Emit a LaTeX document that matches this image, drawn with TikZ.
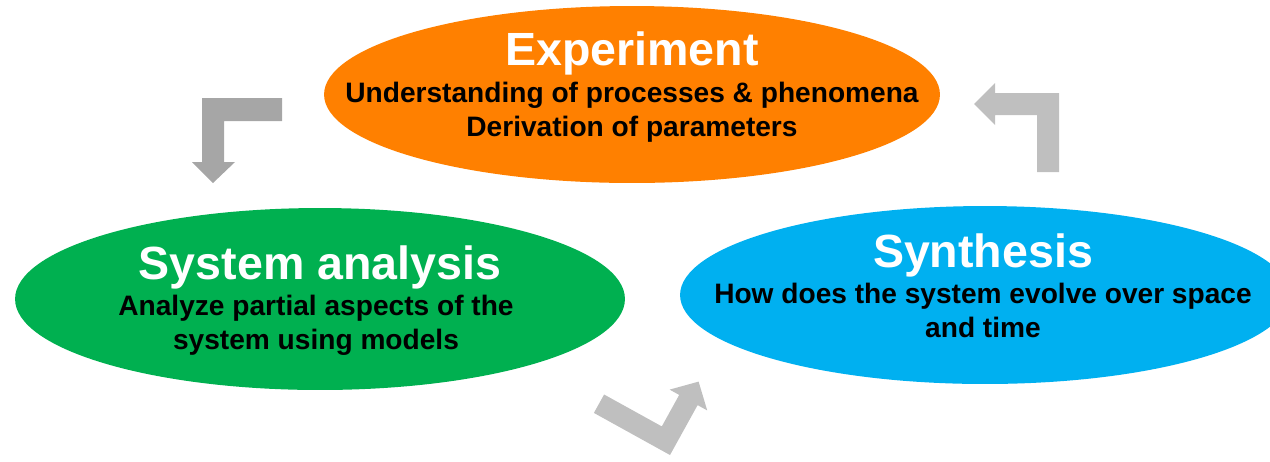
\documentclass[tikz,border=0pt]{standalone}
\usepackage{fontspec}
\setmainfont{Liberation Sans}
\usetikzlibrary{shapes.geometric}
\definecolor{expcol}{HTML}{FF8000}
\definecolor{anacol}{HTML}{00B050}
\definecolor{syncol}{HTML}{00B0F0}
\definecolor{darkarr}{HTML}{A6A6A6}
\definecolor{lightarr}{HTML}{BFBFBF}

\begin{document}
\begin{tikzpicture}[
  x=0.02cm, y=-0.02cm,
  oval/.style={ellipse,inner sep=0pt,minimum width=12.2cm,minimum height=3.6cm},
  heading/.style={text=white,inner sep=0pt,anchor=base,font=\fontsize{26.5}{30}\selectfont\bfseries},
  detail/.style={inner sep=0pt,anchor=base,align=center,font=\fontsize{16}{19}\selectfont\bfseries},
  darkarrow/.style={fill=darkarr},
  lightarrow/.style={fill=lightarr}
]
  \clip (0,0) rectangle (1270,461);

  % the three ovals
  \node[oval,fill=expcol,minimum width=12.32cm,minimum height=3.54cm] (exp) at (632,94.5) {};
  \node[oval,fill=anacol,minimum height=3.64cm] (ana) at (320,299) {};
  \node[oval,fill=syncol,minimum height=3.56cm] (syn) at (985,295) {};

  % texts (detail nodes sit on the baseline of their last line)
  \node[heading] (exp-h) at (632,65) {Experiment};
  \node[detail] (exp-d) at (632,136) {Understanding of processes \& phenomena\\Derivation of parameters};
  \node[heading] (ana-h) at (320,279) {System analysis};
  \node[detail] (ana-d) at (316,349) {Analyze partial aspects of the\\system using models};
  \node[heading] (syn-h) at (983,267) {Synthesis};
  \node[detail] (syn-d) at (983,337) {How does the system evolve over space\\and time};

  % block arrows
  \fill[darkarrow] (282,98) -- (282,121) -- (224,121) -- (224,162) -- (235,162)
    -- (213,183) -- (192,162) -- (202,162) -- (202,98) -- cycle;
  \fill[lightarrow] (1059,172) -- (1037,172) -- (1037,115) -- (995,115) -- (995,125)
    -- (974,104) -- (995,83) -- (995,93) -- (1059,93) -- cycle;
  \fill[lightarrow] (593.9,412.9) -- (670,455) -- (697.6,405.1) -- (707.2,410.4)
    -- (698.6,381.6) -- (669.6,389.6) -- (679.2,394.9) -- (661.8,426.4)
    -- (604.1,394.5) -- cycle;
\end{tikzpicture}
\end{document}
